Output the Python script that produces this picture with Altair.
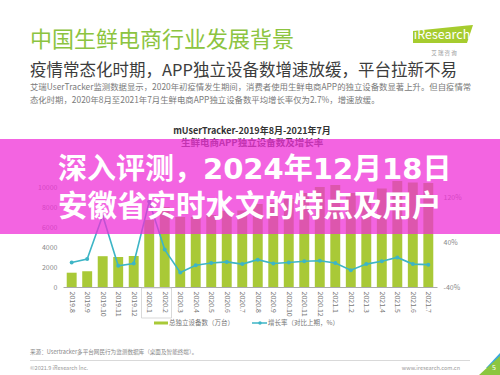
import altair as alt
import pandas as pd

# ---------------- data ----------------
months = ["2019.8", "2019.9", "2019.10", "2019.11", "2019.12",
          "2020.1", "2020.2", "2020.3", "2020.4", "2020.5", "2020.6", "2020.7",
          "2020.8", "2020.9", "2020.10", "2020.11", "2020.12",
          "2021.1", "2021.2", "2021.3", "2021.4", "2021.5", "2021.6", "2021.7"]
devices = [1430, 1580, 3080, 3000, 3100,
           6700, 8000, 7000, 7000, 7200, 7600, 7650,
           8300, 8450, 8800, 9400, 10000,
           10200, 9400, 9450, 9850, 10600, 10450, 10400]
growth = [4, 10, 88, -2, 2,
          113, 27, -14, -1, 3, 5, 1,
          9, 2, 4, 6, 7,
          3, -10, 1, 6, 13, 1, 0]
left_ticks = [0, 2000, 4000, 6000, 8000, 10000]
right_ticks = [-40, 0, 40, 80, 120, 160]

legend_bar = "总独立设备数（万台）"
legend_line = "增长率（对比上期，%）"

df = pd.DataFrame({"month": months, "devices": devices, "growth": growth})

# ---------------- style ----------------
FONT = "Noto Sans CJK SC"
GREEN = "#a9c937"
TEAL = "#3db5c6"
PINK = "#ef2ed6"
OX, OY = 63, 153          # plot-area origin inside the 500x375 page
W, H = 374, 134
ONE = pd.DataFrame({"k": [0]})


def txt(s, X, Y, size, color, weight="normal", align="left", font=FONT, baseline="middle"):
    return alt.Chart(ONE).mark_text(
        text=s, fontSize=size, color=color, fontWeight=weight, align=align,
        baseline=baseline, font=font
    ).encode(x=alt.value(X - OX), y=alt.value(Y - OY))


def box(X1, Y1, X2, Y2, **kw):
    return alt.Chart(ONE).mark_rect(**kw).encode(
        x=alt.value(X1 - OX), x2=alt.value(X2 - OX),
        y=alt.value(Y1 - OY), y2=alt.value(Y2 - OY))


def poly(xs, ytop, ybot, color, opacity=1):
    d = pd.DataFrame({"px": [v - OX for v in xs],
                      "pt": [v - OY for v in ytop],
                      "pb": [v - OY for v in ybot]})
    return alt.Chart(d).mark_area(color=color, opacity=opacity, interpolate="linear").encode(
        x=alt.X("px:Q", scale=None, axis=None),
        y=alt.Y("pt:Q", scale=None, axis=None),
        y2="pb:Q")


xenc = alt.X("month:N", sort=None, title=None,
             scale=alt.Scale(paddingInner=0.36, paddingOuter=0.24),
             axis=alt.Axis(labelAngle=90, labelFontSize=7, labelColor="#777",
                           labelFont=FONT, ticks=False, domainColor="#aaa",
                           labelPadding=4))

base = alt.Chart(df)
bars = base.mark_bar(color=GREEN).encode(
    x=xenc,
    y=alt.Y("devices:Q", title=None,
            scale=alt.Scale(domain=[0, 13400], nice=False),
            axis=alt.Axis(values=left_ticks, format="d", domain=False, ticks=False,
                          grid=False, labelFontSize=7, labelColor="#888",
                          labelPadding=6, labelFont=FONT)))

yline = alt.Y("growth:Q", title=None,
              scale=alt.Scale(domain=[-40, 200], nice=False),
              axis=alt.Axis(orient="right", values=right_ticks,
                            labelExpr="datum.value + '%'", domain=False, ticks=False,
                            grid=False, labelFontSize=7, labelColor="#888",
                            labelPadding=6, labelFont=FONT))
line = base.mark_line(color=TEAL, strokeWidth=1.6).encode(x=alt.X("month:N", sort=None), y=yline)
pts = base.mark_point(color=TEAL, filled=True, size=16, opacity=1).encode(
    x=alt.X("month:N", sort=None), y=alt.Y("growth:Q", scale=alt.Scale(domain=[-40, 200], nice=False)))

plot = alt.layer(bars, alt.layer(line, pts)).resolve_scale(y="independent")

# ---------------- page decorations ----------------
deco = [
    txt("中国生鲜电商行业发展背景", 30, 40, 22, "#8cc440"),
    txt("疫情常态化时期，APP独立设备数增速放缓，平台拉新不易", 30, 71, 16.5, "#3c3c3c"),
    txt("艾瑞UserTracker监测数据显示，2020年初疫情发生期间，消费者使用生鲜电商APP的独立设备数显著上升。但自疫情常",
        30, 87, 8.4, "#7a7a7a"),
    txt("态化时期，2020年8月至2021年7月生鲜电商APP独立设备数平均增长率仅为2.7%，增速放缓。",
        30, 100, 8.4, "#7a7a7a"),
    poly([413, 467, 473], [31, 25.6, 25], [43, 43, 25], "#a6cc2e"),
    txt("iResearch", 442, 35, 12.5, "white", align="center"),
    txt("艾  瑞  咨  询", 444, 53, 5.5, "#999", align="center"),
    txt("mUserTracker-2019年8月-2021年7月", 252, 130.5, 9, "#333", weight="bold", align="center"),
    txt("生鲜电商APP独立设备数及增长率", 252, 142.5, 9.5, "#444", weight="bold", align="center"),
    box(141.5, 288, 171.5, 318, fill="white", fillOpacity=0, stroke="#cfcfcf", strokeWidth=0.8),
    box(154, 321.5, 168, 324.5, fill=GREEN),
    txt(legend_bar, 169, 323, 6.5, "#777"),
    alt.Chart(ONE).mark_rule(color=TEAL, strokeWidth=1.5).encode(
        x=alt.value(252 - OX), x2=alt.value(267 - OX), y=alt.value(323 - OY)),
    alt.Chart(ONE).mark_point(shape="circle", size=12, filled=True, color=TEAL, opacity=1).encode(
        x=alt.value(260 - OX), y=alt.value(323 - OY)),
    txt(legend_line, 268, 323, 6.5, "#777"),
    txt("来源：Usertracker多平台网民行为监测数据库（桌面及智能终端）。", 30, 352, 5.6, "#888"),
    alt.Chart(ONE).mark_rule(color="#cfcfcf", strokeWidth=0.8).encode(
        x=alt.value(30 - OX), x2=alt.value(470 - OX), y=alt.value(360.5 - OY)),
    txt("©2021.9 iResearch Inc.", 30, 367.5, 5.5, "#999"),
    txt("www.iresearch.com.cn", 460, 367.5, 5.5, "#999", align="right"),
    poly([486, 500], [368, 353], [368, 368], "#3aa9dc"),
    poly([479, 500], [375, 356], [375, 375], "#8cc63f"),
    txt("5", 492, 368, 7, "white"),
]

banner = [
    poly([0, 500], [139, 139], [234, 234], PINK, opacity=0.74),
    txt("深入评测，2024年12月18日", 58, 170, 29, "white", weight="bold",
        font="DejaVu Sans, Noto Sans CJK SC"),
    txt("安徽省实时水文的特点及用户", 58, 207, 29.5, "white", weight="bold"),
]

chart = alt.layer(plot, *deco, *banner).resolve_scale(
    x="independent", y="independent"
).properties(
    width=W, height=H,
    padding={"left": OX, "top": OY, "right": 500 - OX - W, "bottom": 375 - OY - H},
    autosize=alt.AutoSizeParams(type="none"),
    background="white",
).configure_view(stroke=None).configure_text(font=FONT)

chart.save("out.html", embed_options={"renderer": "svg", "actions": False})
